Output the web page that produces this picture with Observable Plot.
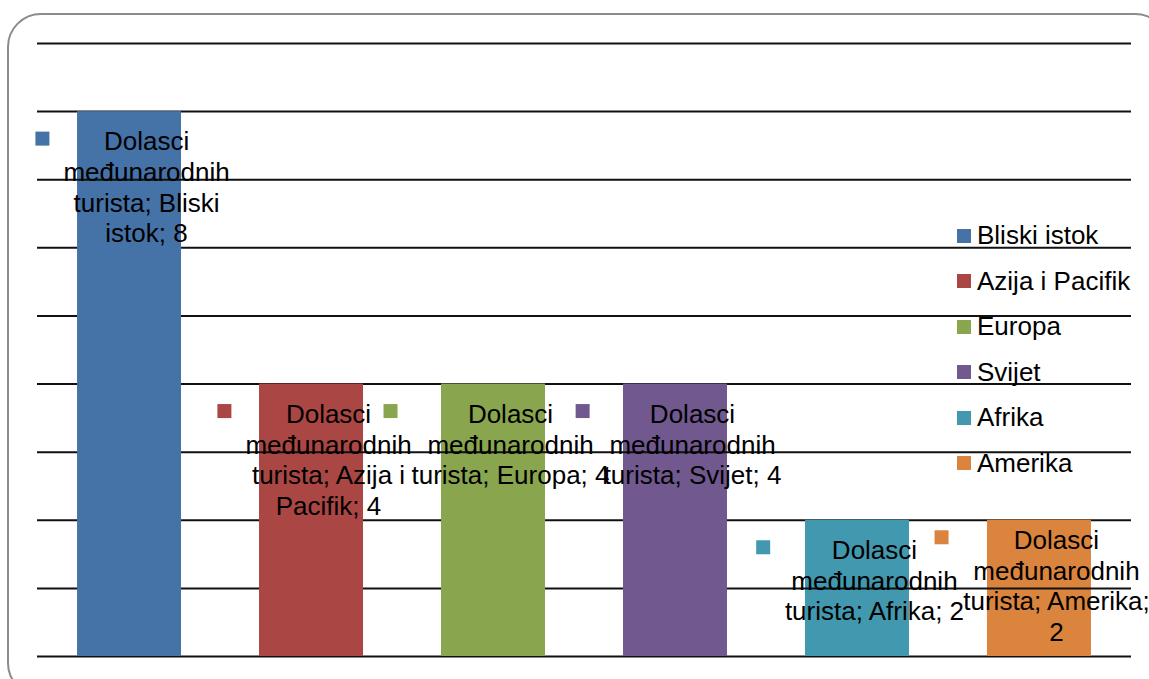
<!DOCTYPE html>
<html><head><meta charset="utf-8">
<script src="https://cdn.jsdelivr.net/npm/d3@7"></script>
<script src="https://cdn.jsdelivr.net/npm/@observablehq/plot@0.6"></script>
<style>
html,body{margin:0;padding:0;width:1149px;height:679px;overflow:hidden;background:#fff;font-family:"Liberation Sans",Arial,sans-serif;}
#frame{position:absolute;left:7px;top:13px;width:1162px;height:684px;border:2px solid #8c8c8c;border-radius:34px;box-sizing:border-box;}
#chart{position:absolute;left:0;top:0;}
#legend{position:absolute;left:957px;top:213px;}
#legend .leg-swatches{margin:0!important;width:200px;font-size:26px!important;font-family:"Liberation Sans",Arial,sans-serif!important;color:#000;}
#legend .leg-swatch{height:45.5px;padding:0!important;margin:0!important;display:flex;align-items:center;}
#legend .leg-swatch>svg{margin-right:6px!important;}
#legend .leg-swatch-label{overflow:visible!important;text-overflow:clip!important;white-space:nowrap;}
</style></head><body>
<div id="frame"></div><div id="chart"></div><div id="legend"></div>
<script>
const seriesName = "Dolasci međunarodnih turista";
const categories = ["Bliski istok", "Azija i Pacifik", "Europa", "Svijet", "Afrika", "Amerika"];
const values = [8, 4, 4, 4, 2, 2];
const colors = ["#4572A7", "#AA4643", "#89A54E", "#71588F", "#4198AF", "#DB843D"];
const yTicks = [0, 1, 2, 3, 4, 5, 6, 7, 8, 9];

const FONT = '"Liberation Sans", Arial, sans-serif';
const FS = 26;
const LH = 1.18;
const labelNudge = {"Amerika": -10};

const W = 1149, H = 679, mT = 43, mB = 23, mL = 37, mR = 18;
const pxPerUnit = (H - mT - mB) / (yTicks[yTicks.length - 1] - yTicks[0]);

const ctx = document.createElement("canvas").getContext("2d");
ctx.font = `${FS}px ${FONT}`;
function wrap(str, maxW) {
  const words = str.split(" ");
  const lines = [];
  let cur = "";
  for (const w of words) {
    const t = cur ? cur + " " + w : w;
    if (cur && ctx.measureText(t).width > maxW) { lines.push(cur); cur = w; }
    else cur = t;
  }
  if (cur) lines.push(cur);
  return lines;
}

const data = categories.map((c, i) => ({cat: c, value: values[i], label: `${seriesName}; ${c}; ${values[i]}`}));

const labelMarks = data.flatMap(d => {
  const lines = wrap(d.label, 204);
  const w = d3.max(lines, l => ctx.measureText(l).width);
  const nudge = labelNudge[d.cat] ?? 0;
  const blockH = 17 + nudge + lines.length * FS * LH - 8;
  const over = yTicks.filter(t => t < d.value && (d.value - t) * pxPerUnit < blockH);
  return [
    Plot.ruleY(over, {y: t => t, x1: () => d.cat, x2: () => d.cat, stroke: "#111", strokeWidth: 2}),
    Plot.dot([d], {x: "cat", y: "value", symbol: "square", r: 7.9, fill: "cat", stroke: null, dx: 17 - w / 2 - 21, dy: 27 + nudge}),
    Plot.text([d], {x: "cat", y: "value", text: () => lines.join("\n"), dx: 17, dy: 17 + nudge,
      lineAnchor: "top", textAnchor: "middle", fontSize: FS, lineHeight: LH, fill: "#000"})
  ];
});

const chart = Plot.plot({
  width: W, height: H,
  marginTop: mT, marginBottom: mB, marginLeft: mL, marginRight: mR,
  style: {fontFamily: FONT, fontSize: FS + "px", background: "transparent", overflow: "visible"},
  x: {domain: categories, paddingInner: 0.4286, paddingOuter: 0.22, round: false, axis: null},
  y: {domain: [0, 9], axis: null},
  color: {domain: categories, range: colors},
  marks: [
    Plot.ruleY(yTicks, {stroke: "#111", strokeWidth: 2}),
    Plot.barY(data, {x: "cat", y: "value", fill: "cat"}),
    ...labelMarks
  ]
});
document.getElementById("chart").appendChild(chart);

const leg = chart.legend("color", {legend: "swatches", columns: 1, swatchSize: 14, className: "leg",
  style: {fontSize: "26px", fontFamily: FONT}});
document.getElementById("legend").appendChild(leg);
</script>
</body></html>
